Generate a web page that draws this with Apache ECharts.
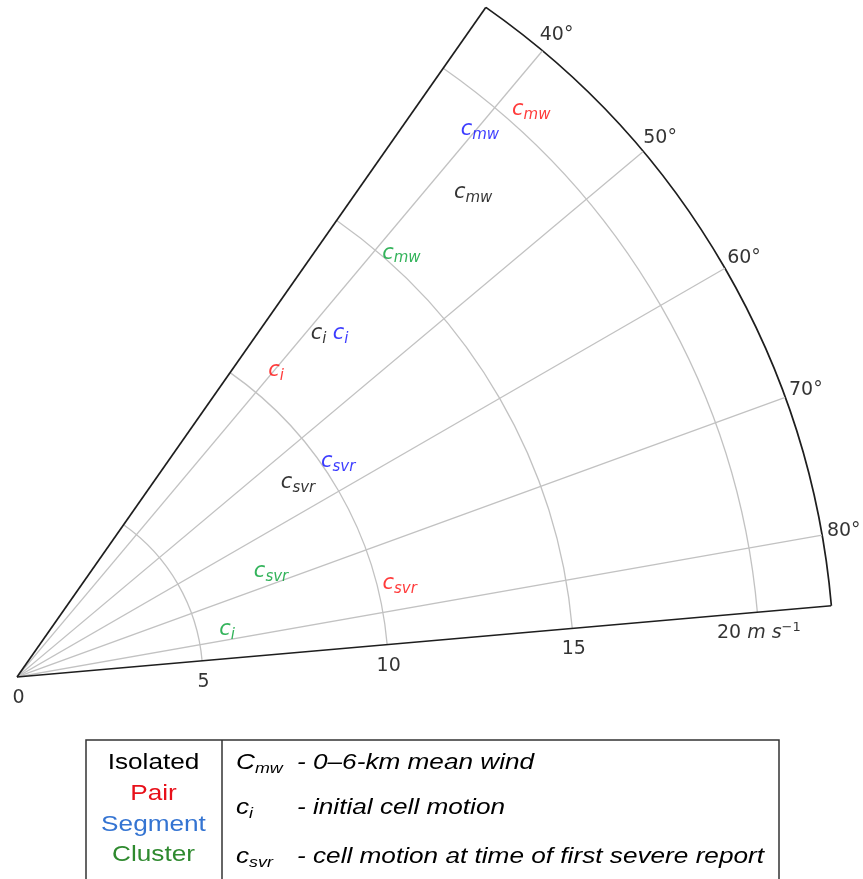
<!DOCTYPE html>
<html>
<head>
<meta charset="utf-8">
<script src="https://cdn.jsdelivr.net/npm/echarts@6/dist/echarts.min.js"></script>
<style>
  html, body { margin: 0; padding: 0; background: #ffffff; }
  #chart { width: 863px; height: 879px; }
</style>
</head>
<body>
<div id="chart"></div>
<script>
// Storm motion vectors: speed (m s-1) and direction (deg, clockwise from north)
const groupNames = ['Isolated', 'Pair', 'Segment', 'Cluster'];
const motionKeys = ['mw', 'i', 'svr'];

const isolatedSpeed = [17.9, 12.3, 9.2];
const isolatedDirection = [43.3, 41.3, 55.3];
const pairSpeed = [20.6, 10.8, 10.6];
const pairDirection = [42.2, 40.2, 76.3];
const segmentSpeed = [19.3, 12.7, 10.4];
const segmentDirection = [40.2, 43.3, 56.2];
const clusterSpeed = [15.4, 5.8, 7.4];
const clusterDirection = [42.2, 77.2, 67.5];

// Axis layout values
const directionTicks = [40, 50, 60, 70, 80];
const speedTicks = [0, 5, 10, 15, 20];
const sectorDirections = [35, 85];
const speedMax = 22;

// Legend text
const legendSymbols = [['C', 'mw'], ['c', 'i'], ['c', 'svr']];
const legendDescriptions = ['- 0\u20136-km mean wind', '- initial cell motion', '- cell motion at time of first severe report'];

const chartColors = ['#000000', '#ff0a0a', '#0a0aff', '#00a032'];
const legendColors = ['#000000', '#e8101a', '#3474d2', '#2f8a2f'];

const groupSpeeds = [isolatedSpeed, pairSpeed, segmentSpeed, clusterSpeed];
const groupDirections = [isolatedDirection, pairDirection, segmentDirection, clusterDirection];

const GRID = '#c2c2c2';
const EDGE = '#1e1e1e';
const TICK_FONT = 'DejaVu Sans';
const TICK_COLOR = '#000000';
const CENTER = [17, 677];
const RADIUS = 817.5;
const rad = d => d * Math.PI / 180;

const chart = echarts.init(document.getElementById('chart'), null, { renderer: 'canvas' });

const series = [];

// radial grid lines at the labelled directions
directionTicks.forEach(d => {
  series.push({
    type: 'line', coordinateSystem: 'polar', polarIndex: 0, silent: true, clip: false, z: 1,
    symbol: 'none', lineStyle: { color: GRID, width: 1.3 },
    data: [[0, d], [speedMax, d]]
  });
});

// sector side edges, drawn in an unclipped full-circle frame sharing the same centre and scale
sectorDirections.forEach(d => {
  series.push({
    type: 'line', coordinateSystem: 'polar', polarIndex: 1, silent: true, clip: false, z: 3,
    symbol: 'none', lineStyle: { color: EDGE, width: 1.7 },
    data: [[0, d], [speedMax, d]]
  });
});

// direction labels outside the outer arc
series.push({
  type: 'scatter', coordinateSystem: 'polar', polarIndex: 0, silent: true, clip: false, z: 4,
  symbolSize: 1, itemStyle: { color: 'rgba(0,0,0,0)' },
  data: directionTicks.map(d => ({
    value: [speedMax, d],
    label: { offset: [22 * Math.sin(rad(d)), -21 * Math.cos(rad(d))] }
  })),
  label: {
    show: true, position: 'inside', color: TICK_COLOR,
    fontFamily: TICK_FONT, fontSize: 19,
    formatter: p => p.value[1] + '\u00b0'
  }
});

// speed labels under the lower edge
series.push({
  type: 'scatter', coordinateSystem: 'polar', polarIndex: 0, silent: true, clip: false, z: 4,
  symbolSize: 1, itemStyle: { color: 'rgba(0,0,0,0)' },
  data: speedTicks.map(s => [s, sectorDirections[1]]),
  label: {
    show: true, position: 'inside', offset: [1.5, 21], color: TICK_COLOR,
    fontFamily: TICK_FONT, fontSize: 19,
    formatter: p => p.dataIndex === speedTicks.length - 1
      ? '{n|' + p.value[0] + ' }{u|m s}{p|\u22121}'
      : String(p.value[0]),
    rich: {
      n: { fontFamily: TICK_FONT, fontSize: 19, lineHeight: 24, color: TICK_COLOR },
      u: { fontFamily: TICK_FONT, fontStyle: 'italic', fontSize: 19, lineHeight: 24, color: TICK_COLOR },
      p: { fontFamily: TICK_FONT, fontSize: 13, lineHeight: 12, verticalAlign: 'top', color: TICK_COLOR }
    }
  }
});

// motion labels for each storm mode
groupNames.forEach((name, g) => {
  series.push({
    type: 'scatter', name: name, coordinateSystem: 'polar', polarIndex: 0, silent: true, clip: false, z: 5,
    symbolSize: 1, itemStyle: { color: 'rgba(0,0,0,0)' },
    data: groupSpeeds[g].map((s, k) => [s, groupDirections[g][k]]),
    label: {
      show: true, position: 'inside', color: chartColors[g],
      formatter: p => '{c|c}{s|' + motionKeys[p.dataIndex] + '}',
      rich: {
        c: { fontFamily: TICK_FONT, fontStyle: 'italic', fontSize: 21, lineHeight: 26, color: chartColors[g] },
        s: { fontFamily: TICK_FONT, fontStyle: 'italic', fontSize: 15, lineHeight: 16, verticalAlign: 'bottom', color: chartColors[g] }
      }
    }
  });
});

// legend table
const LEG_FONT = 'Liberation Sans';
const STRETCH = 1.19;
const leftRowsY = [763, 794, 825, 855];
const rightRowsY = [763, 808, 857];
const graphic = [
  { type: 'rect', silent: true, shape: { x: 86, y: 740, width: 693, height: 170 },
    style: { fill: 'none', stroke: '#333333', lineWidth: 1.5 } },
  { type: 'line', silent: true, shape: { x1: 222, y1: 740, x2: 222, y2: 900 },
    style: { stroke: '#333333', lineWidth: 1.5 } }
];
groupNames.forEach((name, i) => {
  graphic.push({
    type: 'text', silent: true, x: 153.5, y: leftRowsY[i], scaleX: STRETCH,
    style: { text: name, fill: legendColors[i], fontFamily: LEG_FONT, fontSize: 22,
             align: 'center', verticalAlign: 'middle' }
  });
});
legendSymbols.forEach((sym, i) => {
  graphic.push({
    type: 'text', silent: true, x: 236, y: rightRowsY[i], scaleX: STRETCH,
    style: {
      text: '{m|' + sym[0] + '}{s|' + sym[1] + '}',
      align: 'left', verticalAlign: 'middle',
      rich: {
        m: { fontFamily: LEG_FONT, fontStyle: 'italic', fontSize: 22, lineHeight: 26, fill: '#000000' },
        s: { fontFamily: LEG_FONT, fontStyle: 'italic', fontSize: 15, lineHeight: 14, verticalAlign: 'bottom', fill: '#000000' }
      }
    }
  });
  graphic.push({
    type: 'text', silent: true, x: 297, y: rightRowsY[i], scaleX: STRETCH,
    style: { text: legendDescriptions[i], fill: '#000000', fontFamily: LEG_FONT,
             fontStyle: 'italic', fontSize: 22, align: 'left', verticalAlign: 'middle' }
  });
});

chart.setOption({
  animation: false,
  backgroundColor: '#ffffff',
  polar: [
    { center: CENTER, radius: RADIUS },
    { center: CENTER, radius: RADIUS }
  ],
  angleAxis: [
    {
      polarIndex: 0, type: 'value',
      min: sectorDirections[0], max: sectorDirections[1],
      startAngle: 90 - sectorDirections[0], endAngle: 90 - sectorDirections[1],
      clockwise: true,
      axisLine: { show: true, lineStyle: { color: EDGE, width: 1.7 } },
      axisTick: { show: false }, axisLabel: { show: false }, splitLine: { show: false }
    },
    {
      polarIndex: 1, type: 'value', min: 0, max: 360, startAngle: 90, clockwise: true, show: false
    }
  ],
  radiusAxis: [
    {
      polarIndex: 0, type: 'value', min: 0, max: speedMax, interval: 5,
      axisLine: { show: false }, axisTick: { show: false }, axisLabel: { show: false },
      splitLine: { show: true, lineStyle: { color: [GRID, GRID, GRID, GRID, GRID, 'rgba(0,0,0,0)'], width: 1.3 } }
    },
    {
      polarIndex: 1, type: 'value', min: 0, max: speedMax, show: false
    }
  ],
  series: series,
  graphic: graphic
});
</script>
</body>
</html>
